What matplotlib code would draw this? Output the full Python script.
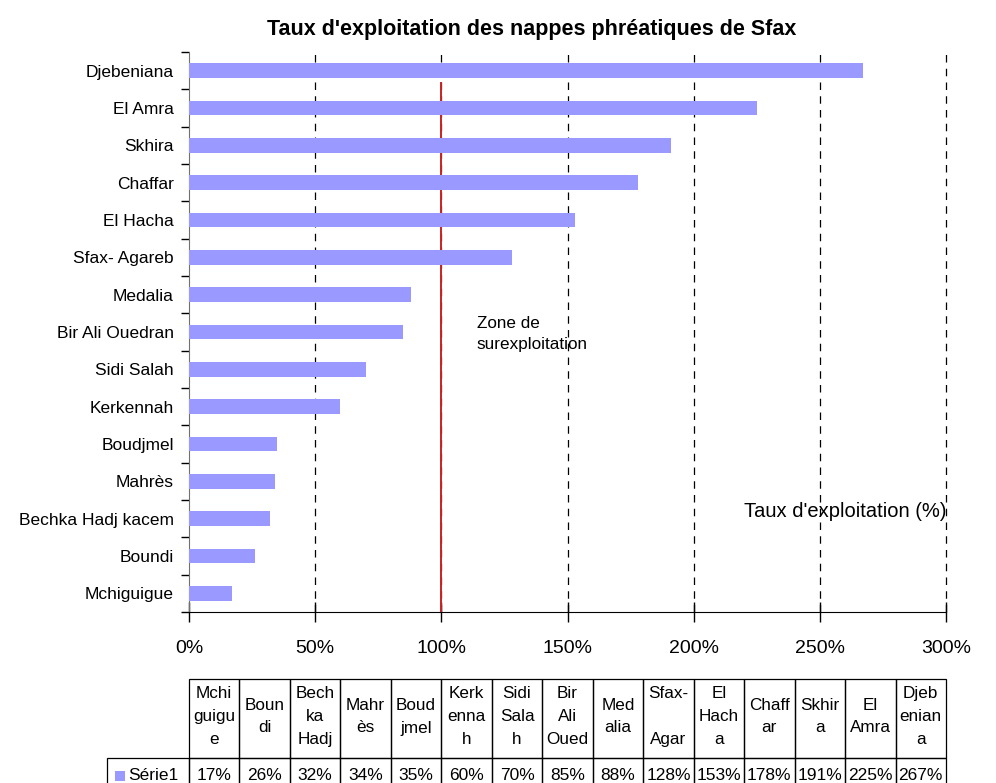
import matplotlib
matplotlib.use("Agg")
import matplotlib.pyplot as plt
from matplotlib.patches import Rectangle
import numpy as np

plt.rcParams['font.family'] = ['Liberation Sans', 'DejaVu Sans']

# ---------------- data ----------------
categories = ["Mchiguigue", "Boundi", "Bechka Hadj kacem", "Mahrès", "Boudjmel",
              "Kerkennah", "Sidi Salah", "Bir Ali Ouedran", "Medalia", "Sfax- Agareb",
              "El Hacha", "Chaffar", "Skhira", "El Amra", "Djebeniana"]
values = [17, 26, 32, 34, 35, 60, 70, 85, 88, 128, 153, 178, 191, 225, 267]
table_headers = ["Mchi\nguigu\ne", "Boun\ndi", "Bech\nka\nHadj", "Mahr\nès", "Boud\njmel",
                 "Kerk\nenna\nh", "Sidi\nSala\nh", "Bir\nAli\nOued", "Med\nalia", "Sfax-\n\nAgar",
                 "El\nHach\na", "Chaff\nar", "Skhir\na", "El\nAmra", "Djeb\nenian\na"]
x_ticks = [0, 50, 100, 150, 200, 250, 300]
series_name = "Série1"
threshold = 100
title = "Taux d'exploitation des nappes phréatiques de Sfax"
x_label = "Taux d'exploitation (%)"
zone_label = "Zone de\nsurexploitation"

# ---------------- layout ----------------
W, H = 996, 783
fig = plt.figure(figsize=(W / 100, H / 100), dpi=100)
L, R, T, B = 189, 946, 52, 612
ax = fig.add_axes([L / W, 1 - B / H, (R - L) / W, (B - T) / H])

bar_color = '#9999FF'
n = len(categories)
y = np.arange(n)
ax.barh(y, values, height=0.4, color=bar_color, zorder=3)
ax.set_xlim(0, 300)
ax.set_ylim(-0.5, n - 0.5)

ax.set_xticks(x_ticks)
ax.set_xticklabels([f"{t}%" for t in x_ticks], fontsize=14)
ax.tick_params(axis='x', direction='inout', length=14, width=1, pad=13)

ax.set_yticks(y)
ax.set_yticklabels(categories, fontsize=12.5)
ax.tick_params(axis='y', which='major', length=0, pad=11)
ax.set_yticks(np.arange(n + 1) - 0.5, minor=True)
ax.tick_params(axis='y', which='minor', direction='out', length=6, width=1)

for s in ['top', 'right']:
    ax.spines[s].set_visible(False)
ax.spines['left'].set_color('#707070')
ax.spines['bottom'].set_color('black')

for t in x_ticks[1:]:
    ax.axvline(t, color='black', lw=0.9, dashes=(6, 5), zorder=1, clip_on=False)
ax.axvline(threshold, ymin=0, ymax=0.945, color='#CC2222', lw=1.4, zorder=2)

fig.text(532 / W, 1 - 30 / H, title, ha='center', va='center', fontsize=15.5, fontweight='bold')
ax.text(114, 0.496, zone_label, transform=ax.get_xaxis_transform(), ha='left', va='center',
        fontsize=12.3, linespacing=1.5)
ax.text(1.0, 0.18, x_label, transform=ax.transAxes, ha='right', va='center', fontsize=14.5)

# ---------------- data table ----------------
tax = fig.add_axes([0, 0, 1, 1])
tax.set_xlim(0, W)
tax.set_ylim(H, 0)
tax.axis('off')
cw = (R - L) / n
h_top, h_bot, v_bot = 679, 758, 784
line_gap = 23
for i, (hdr, v) in enumerate(zip(table_headers, values)):
    x0 = L + i * cw
    tax.add_patch(Rectangle((x0, h_top), cw, h_bot - h_top, fill=False, ec='black', lw=0.9))
    tax.add_patch(Rectangle((x0, h_bot), cw, v_bot - h_bot, fill=False, ec='black', lw=0.9))
    lines = hdr.split("\n")
    mid = (h_top + h_bot) / 2 - 2
    for k, ln in enumerate(lines):
        yy = mid + (k - (len(lines) - 1) / 2) * line_gap
        tax.text(x0 + cw / 2, yy, ln, ha='center', va='center', fontsize=12.3)
    tax.text(x0 + cw / 2, 776, f"{v}%", ha='center', va='center', fontsize=12.5)

tax.add_patch(Rectangle((107, h_bot), L - 107, v_bot - h_bot, fill=False, ec='black', lw=0.9))
tax.add_patch(Rectangle((115, 771), 10, 10, color=bar_color, lw=0))
tax.text(128, 776, series_name, ha='left', va='center', fontsize=12.5)

fig.savefig("out.png", dpi=100)
